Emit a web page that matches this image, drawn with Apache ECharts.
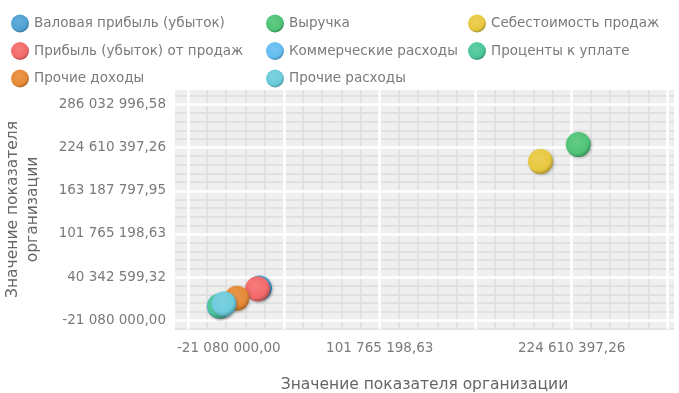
<!DOCTYPE html>
<html><head><meta charset="utf-8">
<script src="https://cdn.jsdelivr.net/npm/echarts@6/dist/echarts.min.js"></script>
<style>html,body{margin:0;padding:0;background:#fff}#c{width:679px;height:393px}</style>
</head><body><div id="c"></div>
<script>
// ---- data ----
const seriesNames = [
  'Валовая прибыль (убыток)', 'Выручка', 'Себестоимость продаж',
  'Прибыль (убыток) от продаж', 'Коммерческие расходы', 'Проценты к уплате',
  'Прочие доходы', 'Прочие расходы'
];
const seriesValues = [24800000, 228900000, 204700000, 23500000, -900000, -500000, 10300000, 2100000];
const seriesColors = ['#4fa3d4', '#4fc477', '#e8c840', '#f46a6a', '#62bdf0', '#4cc79a', '#e68a36', '#6ccbdb'];
const yTickValues = [-21080000, 40342599.32, 101765198.63, 163187797.95, 224610397.26, 286032996.58];
const yTickLabels = ['-21 080 000,00', '40 342 599,32', '101 765 198,63', '163 187 797,95', '224 610 397,26', '286 032 996,58'];
const xTickValues = [-21080000, 101765198.63, 224610397.26];
const xTickLabels = ['-21 080 000,00', '101 765 198,63', '224 610 397,26'];
const axisTitle = 'Значение показателя организации';
const yAxisTitle = 'Значение показателя\nорганизации';

// ---- layout helpers ----
const major = (yTickValues[5] - yTickValues[0]) / 5;
const minor = major / 5;
const fine = minor / 3;
const xMin = yTickValues[0] - 2 * fine;
const xMax = yTickValues[5] + 1 * fine;
const yMin = yTickValues[0] - 3 * fine;
const yMax = yTickValues[5] + 5 * fine;

function pattern(offset, kind) {
  const arr = [];
  for (let i = 0; i < 15; i++) {
    const r = ((i - offset) % 15 + 15) % 15;
    if (kind === 'white') arr.push(r === 0 ? '#ffffff' : 'rgba(0,0,0,0)');
    else arr.push(r !== 0 && r % 3 === 0 ? '#dcdcdc' : 'rgba(0,0,0,0)');
  }
  return arr;
}
function findLabel(v, vals) {
  for (let i = 0; i < vals.length; i++) if (Math.abs(v - vals[i]) < fine / 10) return i;
  return -1;
}
function shade(hex, f) {
  const n = parseInt(hex.slice(1), 16);
  let r = n >> 16, g = (n >> 8) & 255, b = n & 255;
  const m = c => Math.max(0, Math.min(255, Math.round(f >= 0 ? c + (255 - c) * f : c * (1 + f))));
  return 'rgb(' + m(r) + ',' + m(g) + ',' + m(b) + ')';
}
function ball(c) {
  return { type: 'radial', x: 0.42, y: 0.38, r: 0.62, colorStops: [
    { offset: 0, color: shade(c, 0.12) }, { offset: 0.75, color: c }, { offset: 1, color: shade(c, -0.25) }] };
}
const labelColor = '#7a7a7a';
const font = 'DejaVu Sans';

const baseAxis = { type: 'value', axisLine: { show: false }, axisTick: { show: false }, scale: false };
const legendBase = { top: 9.5, orient: 'vertical', itemGap: 9.5, itemWidth: 18, itemHeight: 18, icon: 'circle',
  textStyle: { color: labelColor, fontSize: 13.5, fontFamily: font } };

const option = {
  animation: false,
  textStyle: { fontFamily: font },
  legend: [
    Object.assign({}, legendBase, { left: 6, data: [seriesNames[0], seriesNames[3], seriesNames[6]] }),
    Object.assign({}, legendBase, { left: 261, data: [seriesNames[1], seriesNames[4], seriesNames[7]] }),
    Object.assign({}, legendBase, { left: 463, data: [seriesNames[2], seriesNames[5]] })
  ],
  grid: { left: 175, right: 5, top: 90, bottom: 64, show: true, backgroundColor: '#efefef', borderWidth: 0,
    containLabel: false, outerBoundsMode: 'none' },
  xAxis: [
    Object.assign({}, baseAxis, {
      min: xMin, max: xMax, interval: fine, z: 0,
      name: axisTitle, nameLocation: 'middle', nameGap: 48,
      nameTextStyle: { color: '#666', fontSize: 15.5, fontFamily: font },
      splitLine: { show: true, lineStyle: { color: pattern(2, 'grey'), width: 1.5 } },
      axisLabel: {
        color: labelColor, fontSize: 13.5, fontFamily: font, margin: 12, showMinLabel: true, showMaxLabel: true,
        formatter: v => {
          const i = findLabel(v, xTickValues);
          if (i < 0) return '';
          return i === 0 ? '{s|' + xTickLabels[i] + '}' : xTickLabels[i];
        },
        rich: { s: { padding: [0, 0, 0, 82], color: labelColor, fontSize: 13.5, fontFamily: font } }
      }
    }),
    Object.assign({}, baseAxis, {
      min: xMin, max: xMax, interval: fine, z: 1, position: 'top',
      axisLabel: { show: false },
      splitLine: { show: true, lineStyle: { color: pattern(2, 'white'), width: 2.5 } }
    })
  ],
  yAxis: [
    Object.assign({}, baseAxis, {
      min: yMin, max: yMax, interval: fine, z: 0,
      name: yAxisTitle, nameLocation: 'middle', nameGap: 132,
      nameTextStyle: { color: '#666', fontSize: 15.5, fontFamily: font, lineHeight: 20 },
      splitLine: { show: true, lineStyle: { color: pattern(3, 'grey'), width: 1.5 } },
      axisLabel: {
        color: labelColor, fontSize: 13.5, fontFamily: font, margin: 9, showMinLabel: true, showMaxLabel: true,
        formatter: v => { const i = findLabel(v, yTickValues); return i < 0 ? '' : yTickLabels[i]; }
      }
    }),
    Object.assign({}, baseAxis, {
      min: yMin, max: yMax, interval: fine, z: 1, position: 'right',
      axisLabel: { show: false },
      splitLine: { show: true, lineStyle: { color: pattern(3, 'white'), width: 2.5 } }
    })
  ],
  series: seriesNames.map((n, i) => ({
    name: n, type: 'scatter', xAxisIndex: 0, yAxisIndex: 0, symbolSize: 25, z: 3,
    itemStyle: { color: ball(seriesColors[i]), opacity: 1, shadowBlur: 3, shadowColor: 'rgba(0,0,0,0.25)', shadowOffsetX: 1, shadowOffsetY: 1 },
    data: [[seriesValues[i], seriesValues[i]]]
  }))
};
const chart = echarts.init(document.getElementById('c'), null, { renderer: 'canvas' });
chart.setOption(option);
</script>
</body></html>
